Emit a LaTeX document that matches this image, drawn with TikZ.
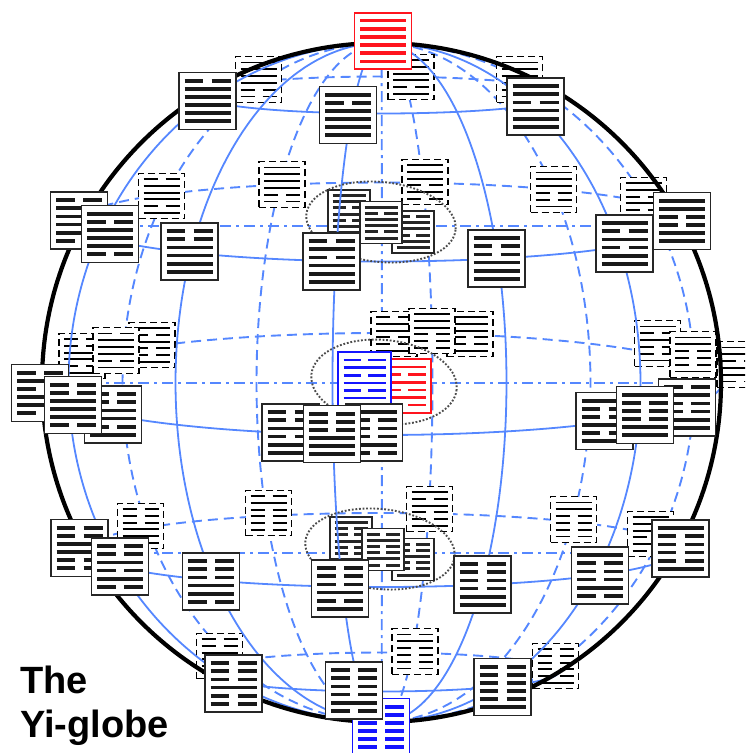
\documentclass[tikz,border=0pt]{standalone}
\usepackage{fontspec}
\setmainfont{Liberation Sans}
\definecolor{gridblue}{RGB}{85,135,255}
\definecolor{hexred}{RGB}{255,20,30}
\definecolor{hexblue}{RGB}{20,20,255}
\tikzset{
  x=1pt,y=-1pt,
  frontline/.style={gridblue,line width=1.8pt},
  backline/.style={gridblue,line width=1.9pt,dash pattern=on 10pt off 6pt},
  axisline/.style={gridblue,line width=1.9pt,dash pattern=on 11pt off 5pt on 3pt off 5pt},
  rim/.style={black,line width=4.2pt},
  group/.style={black!70,line width=1.9pt,dash pattern=on 1.8pt off 1.8pt},
  title/.style={font=\bfseries\fontsize{38}{38}\selectfont,anchor=base west,inner sep=0pt,text=black},
  hexframe/.style={fill=white,inner sep=0pt,outer sep=0pt},
  bigbox/.style={hexframe,draw=black!85,line width=1.7pt,minimum width=57pt,minimum height=57pt},
  bigbar/.style={black!90,line width=3.8pt},
  dashbox/.style={hexframe,draw=black,line width=1.4pt,dash pattern=on 7pt off 4pt,minimum width=46pt,minimum height=45.5pt},
  dashbar/.style={black,line width=1.9pt},
  smallbox/.style={hexframe,draw=black!85,line width=1.6pt,minimum width=42pt,minimum height=42pt},
  smallbar/.style={black!85,line width=3pt},
  redbox/.style={hexframe,draw=hexred,line width=1.8pt,minimum width=57pt,minimum height=56pt},
  redbar/.style={hexred,line width=3.6pt},
  bluebox/.style={hexframe,draw=hexblue,line width=1.8pt,minimum width=57pt,minimum height=57pt},
  bluebar/.style={hexblue,line width=3.6pt},
  midredbox/.style={hexframe,draw=hexred,line width=1.6pt,minimum width=53pt,minimum height=54pt},
  midredbar/.style={hexred,line width=2.6pt},
  midbluebox/.style={hexframe,draw=hexblue,line width=1.6pt,minimum width=53pt,minimum height=54pt},
  midbluebar/.style={hexblue,line width=2.6pt},
}
% half width of bars, spacing between bars, half gap of a broken bar
\def\bigm{23}\def\bigs{8.15}\def\bigg{4.2}
\def\dashm{18}\def\dashs{6.8}\def\dashg{4}
\def\smallm{16.5}\def\smalls{6.2}\def\smallg{3.2}
\def\redm{23}\def\reds{8.15}\def\redg{4}
\def\bluem{23}\def\blues{8}\def\blueg{4}
\def\midredm{21}\def\midreds{7.6}\def\midredg{3.5}
\def\midbluem{21}\def\midblues{7.6}\def\midblueg{3.5}
\newcommand\hexg[5]{% name, x, y, kind, pattern from top to bottom
  \node[#4box] (#1) at (#2,#3) {};
  \foreach \bit [count=\i] in {#5} {
    \pgfmathsetmacro\yy{#3+(\i-3.5)*\csname #4s\endcsname}
    \pgfmathsetmacro\xl{#2-\csname #4m\endcsname}
    \pgfmathsetmacro\xr{#2+\csname #4m\endcsname}
    \pgfmathsetmacro\xa{#2-\csname #4g\endcsname}
    \pgfmathsetmacro\xb{#2+\csname #4g\endcsname}
    \ifnum\bit=1
      \draw[#4bar] (\xl,\yy) -- (\xr,\yy);
    \else
      \draw[#4bar] (\xl,\yy) -- (\xa,\yy) (\xb,\yy) -- (\xr,\yy);
    \fi
  }
}
\newcommand\merid[2]{\draw[#2] plot[domain=-90:90,samples=60,smooth] ({381.5+#1*cos(\x)},{382.5+339.5*sin(\x)});}
\newcommand\lat[5]{% cy, a, b, front/back range start, style
  \draw[#5] plot[domain=#4:#4+180,samples=60,smooth] ({381.5+#2*cos(\x)},{#1+#3*sin(\x)});}
\begin{document}
\begin{tikzpicture}
\useasboundingbox (0,0) rectangle (745,753);
\clip (0,0) rectangle (745,753);
% back of the globe
\merid{313}{backline}\merid{209}{backline}\merid{51}{backline}
\merid{-125}{backline}\merid{-259}{backline}
\merid{0.4}{axisline}
\lat{95}{182}{18.5}{180}{backline}
\lat{222}{304}{39.5}{180}{backline}
\lat{384}{340}{51}{180}{backline}
\lat{550}{295}{37}{180}{backline}
\lat{672}{177}{19.5}{180}{backline}
\coordinate (aL) at (76,226); \coordinate (aR) at (687,226);
\coordinate (bL) at (42,383); \coordinate (bR) at (721,383);
\coordinate (cL) at (90,553); \coordinate (cR) at (673,553);
\draw[axisline] (aL) -- (aR);
\draw[axisline] (bL) -- (bR);
\draw[axisline] (cL) -- (cR);
% hexagrams on the far side
\hexg{d1}{258.5}{79.5}{dash}{1,1,1,1,0,0}
\hexg{d2}{411}{77}{dash}{1,1,1,1,0,1}
\hexg{d8}{519.5}{79.5}{dash}{1,1,1,1,0,0}
\hexg{d5}{161.5}{196}{dash}{0,1,1,1,0,1}
\hexg{d3}{282}{184.5}{dash}{1,1,1,1,0,0}
\hexg{d4}{425}{182}{dash}{1,1,1,0,1,0}
\hexg{d6}{553.5}{189.5}{dash}{1,1,1,0,0,1}
\hexg{d7}{643.5}{200}{dash}{1,1,0,1,0,1}
\hexg{d12}{82}{356}{dash}{0,0,1,1,0,1}
\hexg{d14}{152}{345}{dash}{1,0,1,0,0,1}
\hexg{d13}{116}{350.5}{dash}{0,1,1,1,0,1}
\hexg{d9}{394}{334}{dash}{0,1,1,0,0,1}
\hexg{d11}{470}{334}{dash}{1,1,1,0,0,1}
\hexg{d10}{432}{331}{dash}{1,1,1,0,0,0}
\hexg{d15}{657.5}{343.5}{dash}{1,0,1,0,0,1}
\hexg{d17}{740}{364.5}{dash}{1,1,0,1,1,0}
\hexg{d16}{693}{354.5}{dash}{1,1,0,0,0,1}
\hexg{d18}{140.5}{526}{dash}{0,0,0,1,1,0}
\hexg{d19}{268.5}{513}{dash}{0,1,0,0,0,0}
\hexg{d21}{429.5}{509}{dash}{1,0,1,0,0,1}
\hexg{d23}{573.5}{519.5}{dash}{1,1,0,0,0,0}
\hexg{d24}{650.5}{534}{dash}{1,1,1,0,1,0}
\hexg{d20}{219.5}{656}{dash}{0,0,1,0,0,0}
\hexg{d22}{415}{651.5}{dash}{0,1,0,0,0,0}
\hexg{d25}{555.5}{666}{dash}{0,0,0,0,0,1}
% inner hexagrams behind the front lines
\hexg{e1}{349}{211}{small}{1,1,0,1,0,1}
\hexg{e2}{351}{538}{small}{1,0,0,1,0,0}
% front of the globe
\merid{-313}{frontline}\merid{-206}{frontline}\merid{-49}{frontline}
\merid{125}{frontline}\merid{259}{frontline}
\lat{95}{182}{18.5}{0}{frontline}
\lat{222}{304}{39.5}{0}{frontline}
\lat{384}{340}{51}{0}{frontline}
\lat{550}{295}{37}{0}{frontline}
\lat{672}{177}{19.5}{0}{frontline}
\draw[rim] (381.5,382.5) circle [radius=339.5];
% dotted groups
\draw[group,rotate around={-6:(381,222)}] (381,222) ellipse [x radius=75, y radius=40];
\draw[group,rotate around={-6:(384,382)}] (384,382) ellipse [x radius=73, y radius=42];
\draw[group,rotate around={-6:(380,549)}] (380,549) ellipse [x radius=75, y radius=40];
% near hexagrams
\hexg{g1}{413}{232}{small}{0,1,1,0,1,1}
\hexg{f1}{381}{222.5}{small}{1,0,1,1,0,1}
\hexg{g2}{413}{559.5}{small}{0,0,1,0,0,1}
\hexg{f2}{383}{549.5}{small}{0,1,0,0,1,0}
\hexg{n1}{207.5}{101}{big}{0,1,1,1,1,1}
\hexg{n2}{348}{115}{big}{1,0,1,1,1,1}
\hexg{n3}{535.5}{106.5}{big}{1,1,0,1,1,1}
\hexg{n4}{189.5}{251.5}{big}{0,0,1,1,1,1}
\hexg{n5}{331.5}{261.5}{big}{0,1,0,1,1,1}
\hexg{n6}{496.5}{258.5}{big}{1,0,0,1,1,1}
\hexg{n7}{79}{220.5}{big}{0,1,1,1,1,0}
\hexg{n8}{110}{234}{big}{1,0,1,1,1,0}
\hexg{n9}{624.5}{243.5}{big}{1,0,1,0,1,1}
\hexg{n10}{682}{221}{big}{1,1,0,0,1,1}
\hexg{mr}{404.5}{386}{midred}{1,0,1,0,1,0}
\hexg{mb}{364.5}{379}{midblue}{0,1,0,1,0,1}
\hexg{n11}{290.5}{432.5}{big}{0,0,1,0,1,1}
\hexg{n12}{374}{432.5}{big}{1,0,0,0,1,0}
\hexg{n13}{332}{434}{big}{0,0,0,1,1,1}
\hexg{n14}{40}{393}{big}{0,1,0,1,1,0}
\hexg{n15}{113}{414.5}{big}{0,0,1,1,0,1}
\hexg{n16}{73}{405}{big}{0,0,1,1,1,0}
\hexg{n17}{604.5}{421}{big}{1,0,0,1,0,1}
\hexg{n18}{687}{407.5}{big}{0,1,0,0,1,1}
\hexg{n19}{645}{415}{big}{1,0,0,0,1,1}
\hexg{n20}{79.5}{548}{big}{0,0,1,1,0,0}
\hexg{n21}{120}{566.5}{big}{0,0,1,0,1,0}
\hexg{n22}{211}{581.5}{big}{0,0,0,1,1,0}
\hexg{n23}{340}{588.5}{big}{0,0,0,1,0,1}
\hexg{n24}{482.5}{584.5}{big}{0,0,0,0,1,1}
\hexg{n25}{600}{575.5}{big}{1,0,0,0,1,0}
\hexg{n26}{680.5}{548.5}{big}{1,0,0,0,0,1}
\hexg{n27}{233.5}{683.5}{big}{0,0,0,1,0,0}
\hexg{n28}{502.5}{687}{big}{0,0,0,0,0,1}
\hexg{top}{383}{41}{red}{1,1,1,1,1,1}
\hexg{bot}{381}{727}{blue}{0,0,0,0,0,0}
\hexg{n29}{354}{690.5}{big}{0,0,0,0,1,0}
% title
\node[title] (t1) at (20,693) {The};
\node[title] (t2) at (20,737) {Yi-globe};
\end{tikzpicture}
\end{document}
